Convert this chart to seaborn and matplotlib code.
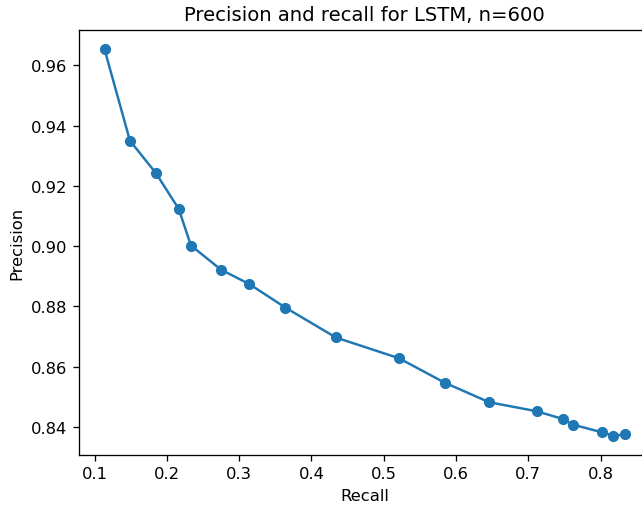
import matplotlib
matplotlib.use('Agg')
import matplotlib.pyplot as plt
import seaborn as sns
import pandas as pd

recall = [0.1138, 0.1489, 0.1849, 0.2163, 0.2333, 0.2748, 0.3141, 0.3640, 0.4336,
          0.5210, 0.5842, 0.6458, 0.7118, 0.7483, 0.7613, 0.8022, 0.8175, 0.8337]
precision = [0.9653, 0.9350, 0.9242, 0.9124, 0.9002, 0.8922, 0.8874, 0.8796, 0.8697,
             0.8628, 0.8547, 0.8482, 0.8452, 0.8426, 0.8408, 0.8382, 0.8371, 0.8375]

df = pd.DataFrame({'Recall': recall, 'Precision': precision})

dpi = 118
fig = plt.figure(figsize=(642 / dpi, 509 / dpi), dpi=dpi)
ax = fig.add_axes([0.1223, 0.1041, 0.8918, 0.835])

sns.lineplot(x='Recall', y='Precision', data=df, ax=ax, sort=False,
             color='#1f77b4', marker='o', markersize=6.8, markeredgewidth=0,
             linewidth=1.5)

ax.set_xticks([0.1, 0.2, 0.3, 0.4, 0.5, 0.6, 0.7, 0.8])
ax.set_yticks([0.84, 0.86, 0.88, 0.90, 0.92, 0.94, 0.96])
ax.set_xlabel('Recall')
ax.set_ylabel('Precision')
ax.set_title('Precision and recall for LSTM, n=600')

fig.savefig('out.png', dpi=dpi)
